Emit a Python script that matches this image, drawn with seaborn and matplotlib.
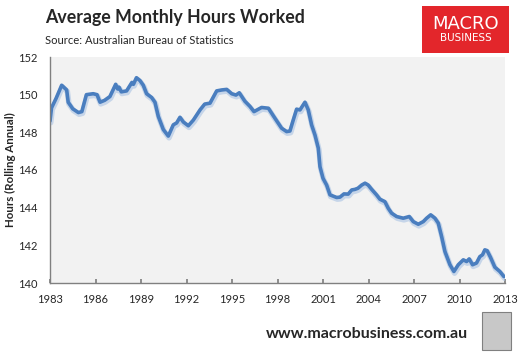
"""Average monthly hours worked, rolling annual (ABS)."""

import matplotlib

matplotlib.use("Agg")
import matplotlib.patheffects as pe
import matplotlib.pyplot as plt
import pandas as pd
import seaborn as sns
from matplotlib.patches import Rectangle

# values (decimal year, hours)
years = [
    1983.0, 1983.1, 1983.4, 1983.77, 1984.1, 1984.2, 1984.5, 1984.87, 1985.1, 1985.4,
    1985.85, 1986.1, 1986.3, 1986.6, 1986.95, 1987.33, 1987.46, 1987.55, 1987.7, 1988.05,
    1988.4, 1988.5, 1988.7, 1988.93, 1989.15, 1989.37, 1989.7, 1989.92, 1990.14, 1990.47,
    1990.8, 1991.13, 1991.35, 1991.57, 1991.79, 1992.12, 1992.45, 1992.9, 1993.2, 1993.55,
    1993.99, 1994.32, 1994.65, 1994.98, 1995.26, 1995.48, 1995.85, 1996.18, 1996.45, 1996.95,
    1997.4, 1997.83, 1998.27, 1998.6, 1998.82, 1999.04, 1999.26, 1999.48, 1999.81, 2000.03,
    2000.25, 2000.47, 2000.69, 2000.8, 2001.0, 2001.24, 2001.46, 2001.9, 2002.12, 2002.38,
    2002.66, 2002.89, 2003.1, 2003.3, 2003.55, 2003.77, 2003.98, 2004.2, 2004.53, 2004.75,
    2005.08, 2005.3, 2005.52, 2005.85, 2006.29, 2006.69, 2006.95, 2007.28, 2007.61, 2007.83,
    2008.1, 2008.38, 2008.6, 2008.82, 2009.04, 2009.37, 2009.63, 2009.92, 2010.25, 2010.47,
    2010.64, 2010.86, 2011.12, 2011.34, 2011.52, 2011.67, 2011.82, 2012.04, 2012.33, 2012.66,
    2012.93,
]
hours = [
    148.6, 149.3, 149.8, 150.5, 150.25, 149.6, 149.25, 149.05, 149.1, 150.0,
    150.05, 150.0, 149.6, 149.7, 149.9, 150.55, 150.3, 150.4, 150.15, 150.2,
    150.65, 150.55, 150.9, 150.75, 150.5, 150.05, 149.85, 149.6, 148.85, 148.15,
    147.8, 148.4, 148.5, 148.8, 148.55, 148.35, 148.65, 149.2, 149.5, 149.55,
    150.2, 150.25, 150.28, 150.05, 149.98, 150.1, 149.65, 149.38, 149.1, 149.32,
    149.28, 148.75, 148.22, 148.04, 148.07, 148.66, 149.23, 149.19, 149.6, 149.19,
    148.39, 147.86, 147.16, 146.18, 145.56, 145.2, 144.68, 144.54, 144.56, 144.73,
    144.72, 144.94, 144.97, 145.03, 145.2, 145.3, 145.2, 144.98, 144.68, 144.45,
    144.32, 143.97, 143.71, 143.53, 143.44, 143.53, 143.26, 143.12, 143.26, 143.44,
    143.62, 143.44, 143.18, 142.47, 141.67, 140.97, 140.61, 140.97, 141.23, 141.14,
    141.28, 140.97, 141.06, 141.4, 141.5, 141.76, 141.72, 141.37, 140.84, 140.61,
    140.34,
]
x_ticks = list(range(1983, 2014, 3))
y_ticks = [140, 142, 144, 146, 148, 150, 152]

df = pd.DataFrame({"year": years, "hours": hours})

sns.set_theme(style="white")
plt.rcParams["font.family"] = ["Lato", "DejaVu Sans"]

fig = plt.figure(figsize=(5.29, 3.52), dpi=100)
fig.patch.set_facecolor("white")
ax = fig.add_axes([50 / 529, 1 - 283 / 352, 455 / 529, 226 / 352])
ax.set_facecolor("#F2F2F2")

sns.lineplot(data=df, x="year", y="hours", color="#4A7EBF", linewidth=2.6, ax=ax,
             path_effects=[pe.SimpleLineShadow(offset=(0.5, -1.2), shadow_color="#A9C3E3", alpha=0.6, linewidth=4),
                           pe.Normal()])

ax.set_xlim(1983, 2013)
ax.set_ylim(140, 152)
ax.set_xticks(x_ticks)
ax.set_yticks(y_ticks)
ax.set_xlabel("")
ax.set_ylabel("")
ax.tick_params(axis="x", direction="in", length=3, color="#808080", labelsize=8, pad=8, bottom=True)
ax.tick_params(axis="y", length=0, labelsize=8, pad=9)
for side in ("top", "right"):
    ax.spines[side].set_visible(False)
for side in ("left", "bottom"):
    ax.spines[side].set_color("#808080")
    ax.spines[side].set_linewidth(1.0)

fig.text(10 / 529, 1 - 170 / 352, "Hours (Rolling Annual)", fontsize=8.3, fontweight="bold",
         rotation=90, ha="center", va="center")

fig.text(45 / 529, 1 - 17 / 352, "Average Monthly Hours Worked", fontsize=12.8, fontweight="bold",
         va="center", ha="left")
fig.text(45 / 529, 1 - 40 / 352, "Source: Australian Bureau of Statistics", fontsize=8.1,
         va="center", ha="left")

# MacroBusiness logo box
fig.patches.append(Rectangle((422 / 529, 1 - 53 / 352), 87 / 529, 47 / 352, transform=fig.transFigure,
                             facecolor="#E3262B", edgecolor="none"))
fig.text(465.5 / 529, 1 - 24 / 352, "MACRO", color="white", fontsize=13, ha="center", va="center",
         family=["DejaVu Sans"])
fig.text(465.5 / 529, 1 - 38 / 352, "BUSINESS", color="white", fontsize=7.5, ha="center", va="center",
         family=["DejaVu Sans"])

fig.text(468 / 529, 1 - 334 / 352, "www.macrobusiness.com.au", fontsize=11.5, fontweight="bold",
         ha="right", va="center")

# wolf badge placeholder
fig.patches.append(Rectangle((482 / 529, 1 - 350 / 352), 29 / 529, 38 / 352, transform=fig.transFigure,
                             facecolor="#C8C8C8", edgecolor="#808080", linewidth=0.8))

fig.savefig("out.png", dpi=100, facecolor="white")
plt.close(fig)
